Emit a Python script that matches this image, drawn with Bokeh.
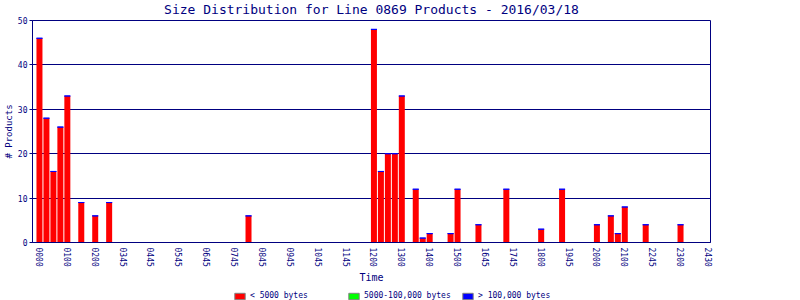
from bokeh.plotting import figure
from bokeh.layouts import column
from bokeh.models import Range1d, FixedTicker, Legend, LegendItem, ColumnDataSource
from bokeh.embed import file_html
from bokeh.resources import INLINE

# ---- data ----
bar_times = ["0000", "0015", "0030", "0045", "0100", "0130", "0200", "0230", "0730",
             "1200", "1215", "1230", "1245", "1300", "1330", "1345", "1400", "1445",
             "1500", "1545", "1645", "1800", "1845", "2000", "2030", "2045", "2100",
             "2145", "2300"]
small_counts = [46, 28, 16, 26, 33, 9, 6, 9, 6,
                48, 16, 20, 20, 33, 12, 1, 2, 2,
                12, 4, 12, 3, 12, 4, 6, 2, 8,
                4, 4]
mid_counts = [0] * len(bar_times)
large_counts = [0] * len(bar_times)
tick_labels = ["0000", "0100", "0200", "0345", "0445", "0545", "0645", "0745", "0845",
               "0945", "1045", "1145", "1200", "1300", "1400", "1500", "1645", "1745",
               "1800", "1945", "2000", "2100", "2245", "2300", "2430"]
legend_labels = ["< 5000 bytes", "5000-100,000 bytes", "> 100,000 bytes"]
title_text = "Size Distribution for Line 0869 Products - 2016/03/18"

NAVY = "#000080"
FONT = "DejaVu Sans Mono"

slots = [int(t[:2]) * 4 + int(t[2:]) // 15 for t in bar_times]
s_top = small_counts
m_top = [a + b for a, b in zip(small_counts, mid_counts)]
l_top = [a + b for a, b in zip(m_top, large_counts)]
src = ColumnDataSource(dict(x=slots, s=s_top, m=m_top, l=l_top))

p = figure(width=800, height=288, x_range=Range1d(-1, 96.3), y_range=Range1d(0, 50),
           output_backend="svg", toolbar_location=None,
           min_border_left=32, min_border_right=90, min_border_top=20, min_border_bottom=46)
p.background_fill_color = "white"
p.border_fill_color = "white"
p.outline_line_color = NAVY
p.outline_line_width = 1

p.title.text = title_text
p.title.align = "center"
p.title.vertical_align = "top"
p.title.text_font = FONT
p.title.text_font_size = "13px"
p.title.text_font_style = "normal"
p.title.text_color = NAVY
p.title.standoff = 3

W = 0.86
p.vbar(x="x", bottom=0, top="s", width=W, source=src, fill_color="#FF0000", line_color=None)
p.vbar(x="x", bottom="s", top="m", width=W, source=src, fill_color="#00FF00", line_color=None)
p.vbar(x="x", bottom="m", top="l", width=W, source=src, fill_color="#0000FF",
       line_color="#0000FF", line_width=1)

# axes
p.xgrid.grid_line_color = None
p.ygrid.grid_line_color = NAVY
p.ygrid.grid_line_width = 1
p.ygrid.ticker = FixedTicker(ticks=[0, 10, 20, 30, 40, 50])

xa = p.xaxis[0]
xa.ticker = FixedTicker(ticks=[4 * i for i in range(len(tick_labels))])
xa.major_label_overrides = {4 * i: lab for i, lab in enumerate(tick_labels)}
xa.major_label_orientation = "vertical"
xa.major_tick_out = 0
xa.major_tick_in = 0
xa.major_tick_line_color = None
xa.minor_tick_line_color = None
xa.axis_line_color = NAVY
xa.major_label_text_font = FONT
xa.major_label_text_font_size = "8px"
xa.major_label_text_color = NAVY
xa.major_label_standoff = 5
xa.axis_label = "Time"
xa.axis_label_text_font = FONT
xa.axis_label_text_font_size = "10px"
xa.axis_label_text_font_style = "normal"
xa.axis_label_text_color = NAVY
xa.axis_label_standoff = 2

ya = p.yaxis[0]
ya.ticker = FixedTicker(ticks=[0, 10, 20, 30, 40, 50])
ya.major_tick_out = 3
ya.major_tick_in = 0
ya.major_tick_line_color = NAVY
ya.minor_tick_line_color = None
ya.axis_line_color = NAVY
ya.major_label_text_font = FONT
ya.major_label_text_font_size = "8px"
ya.major_label_text_color = NAVY
ya.major_label_standoff = 2
ya.axis_label = "# Products"
ya.axis_label_text_font = FONT
ya.axis_label_text_font_size = "9px"
ya.axis_label_text_font_style = "normal"
ya.axis_label_text_color = NAVY
ya.axis_label_standoff = 1

# legend strip below the chart (its frame is aligned with the chart's frame)
lf = figure(width=800, height=12, x_range=Range1d(0, 800), y_range=Range1d(0, 12),
            output_backend="svg", toolbar_location=None, min_border=0,
            x_axis_location=None, y_axis_location=None)
lf.grid.visible = False
lf.outline_line_color = None
lf.background_fill_color = "white"
lf.border_fill_color = "white"

nan = float("nan")
colors = ["#FF0000", "#00FF00", "#0000FF"]
offsets = [201, 315, 429]
for lab, c, off in zip(legend_labels, colors, offsets):
    dummy = ColumnDataSource(dict(x=[nan], t=[nan]))
    r = lf.vbar(x="x", top="t", width=0.8, source=dummy, fill_color=c, line_color="#808080")
    lg = Legend(items=[LegendItem(label=lab, renderers=[r])], location=(off, 0),
                orientation="horizontal", margin=0, padding=0, border_line_color=None,
                background_fill_alpha=0, glyph_width=13, glyph_height=8, label_height=8,
                label_width=10, label_standoff=4, label_text_font=FONT,
                label_text_font_size="8px", label_text_color=NAVY)
    lf.add_layout(lg, "center")

open("out.html", "w").write(file_html(column(p, lf), INLINE))
